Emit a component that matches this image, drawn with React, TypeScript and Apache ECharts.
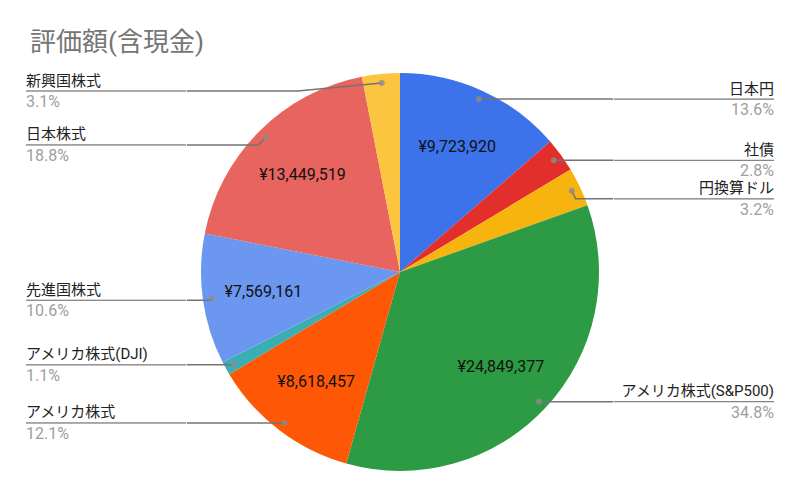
import React, { useEffect, useRef } from 'react';
import * as echarts from 'echarts';

const titleText = '評価額(含現金)';
const categories = [
  '日本円',
  '社債',
  '円換算ドル',
  'アメリカ株式(S&P500)',
  'アメリカ株式',
  'アメリカ株式(DJI)',
  '先進国株式',
  '日本株式',
  '新興国株式',
];
const values = [9723920, 1980000, 2260000, 24849377, 8618457, 770000, 7569161, 13449519, 2190000];
const colors = ['#3c72ea', '#e22f2b', '#f7b30e', '#2d9a44', '#fe5806', '#39afb3', '#6b97f1', '#e8645f', '#fbc540'];

const FONT = 'Roboto, "Noto Sans CJK JP", sans-serif';

function buildOption() {
  const total = values.reduce((a, b) => a + b, 0);
  let acc = 0;
  const mids = values.map((v) => {
    const m = acc + v / 2;
    acc += v;
    return m;
  });
  const pct = (v: number) => ((v / total) * 100).toFixed(1) + '%';
  const fmtYen = (v: number) => '¥' + v.toLocaleString('en-US');

  const baseData = categories.map((name, i) => ({ name, value: values[i], itemStyle: { color: colors[i] } }));
  const clearData = categories.map((name, i) => ({ name, value: values[i], itemStyle: { color: 'rgba(0,0,0,0)' } }));

  return {
    animation: false,
    backgroundColor: '#ffffff',
    title: {
      text: titleText,
      left: 25,
      top: 24,
      textStyle: { fontSize: 26, fontWeight: 'normal', color: '#757575', fontFamily: FONT },
    },
    polar: { center: [400, 272], radius: 199 },
    angleAxis: { type: 'value', min: 0, max: total, startAngle: 90, clockwise: true, show: false },
    radiusAxis: { type: 'value', min: 0, max: 199, show: false },
    series: [
      {
        type: 'pie',
        center: [400, 272],
        radius: 199,
        startAngle: 90,
        clockwise: true,
        silent: true,
        data: baseData,
        label: { show: false },
        labelLine: { show: false },
        z: 1,
      },
      {
        type: 'pie',
        center: [400, 272],
        radius: [71, 199],
        startAngle: 90,
        clockwise: true,
        silent: true,
        avoidLabelOverlap: false,
        data: clearData,
        label: {
          show: true,
          position: 'inside',
          fontSize: 16,
          color: '#111111',
          fontFamily: FONT,
          formatter: (p: any) => (p.value / total >= 0.1 ? fmtYen(p.value) : ''),
        },
        labelLine: { show: false },
        z: 3,
      },
      {
        type: 'pie',
        left: 0,
        right: 0,
        top: 72,
        bottom: 0,
        center: [400, 200],
        radius: 190,
        startAngle: 90,
        clockwise: true,
        silent: true,
        data: clearData,
        label: {
          show: true,
          position: 'outside',
          alignTo: 'edge',
          edgeDistance: 26,
          distanceToLabelLine: 0,
          width: 160,
          overflow: 'none',
          fontFamily: FONT,
          formatter: (p: any) => `{n|${p.name}}\n{hr|}\n{p|${pct(p.value)}}`,
          rich: {
            n: { fontSize: 15, color: '#222222', lineHeight: 21, fontFamily: FONT },
            hr: { width: '100%', height: 0, lineHeight: 0, borderWidth: 0.75, borderColor: '#737373' },
            p: { fontSize: 16, color: '#9e9e9e', lineHeight: 21, fontFamily: FONT },
          },
        },
        labelLine: {
          show: true,
          length: 0,
          length2: 8,
          lineStyle: { color: '#737373', width: 1.5 },
        },
        z: 2,
      },
      {
        type: 'scatter',
        coordinateSystem: 'polar',
        silent: true,
        symbol: 'circle',
        symbolSize: 6,
        itemStyle: { color: '#8c8c8c' },
        data: mids.map((m) => [190, m]),
        z: 4,
      },
    ],
  };
}

export default function App() {
  const ref = useRef<HTMLDivElement>(null);
  useEffect(() => {
    if (!ref.current) return;
    const chart = echarts.init(ref.current, null, { renderer: 'svg' });
    chart.setOption(buildOption() as any);
    return () => chart.dispose();
  }, []);
  return (
    <div
      ref={ref}
      style={{ position: 'fixed', left: 0, top: 0, width: 800, height: 497, background: '#ffffff' }}
    />
  );
}
